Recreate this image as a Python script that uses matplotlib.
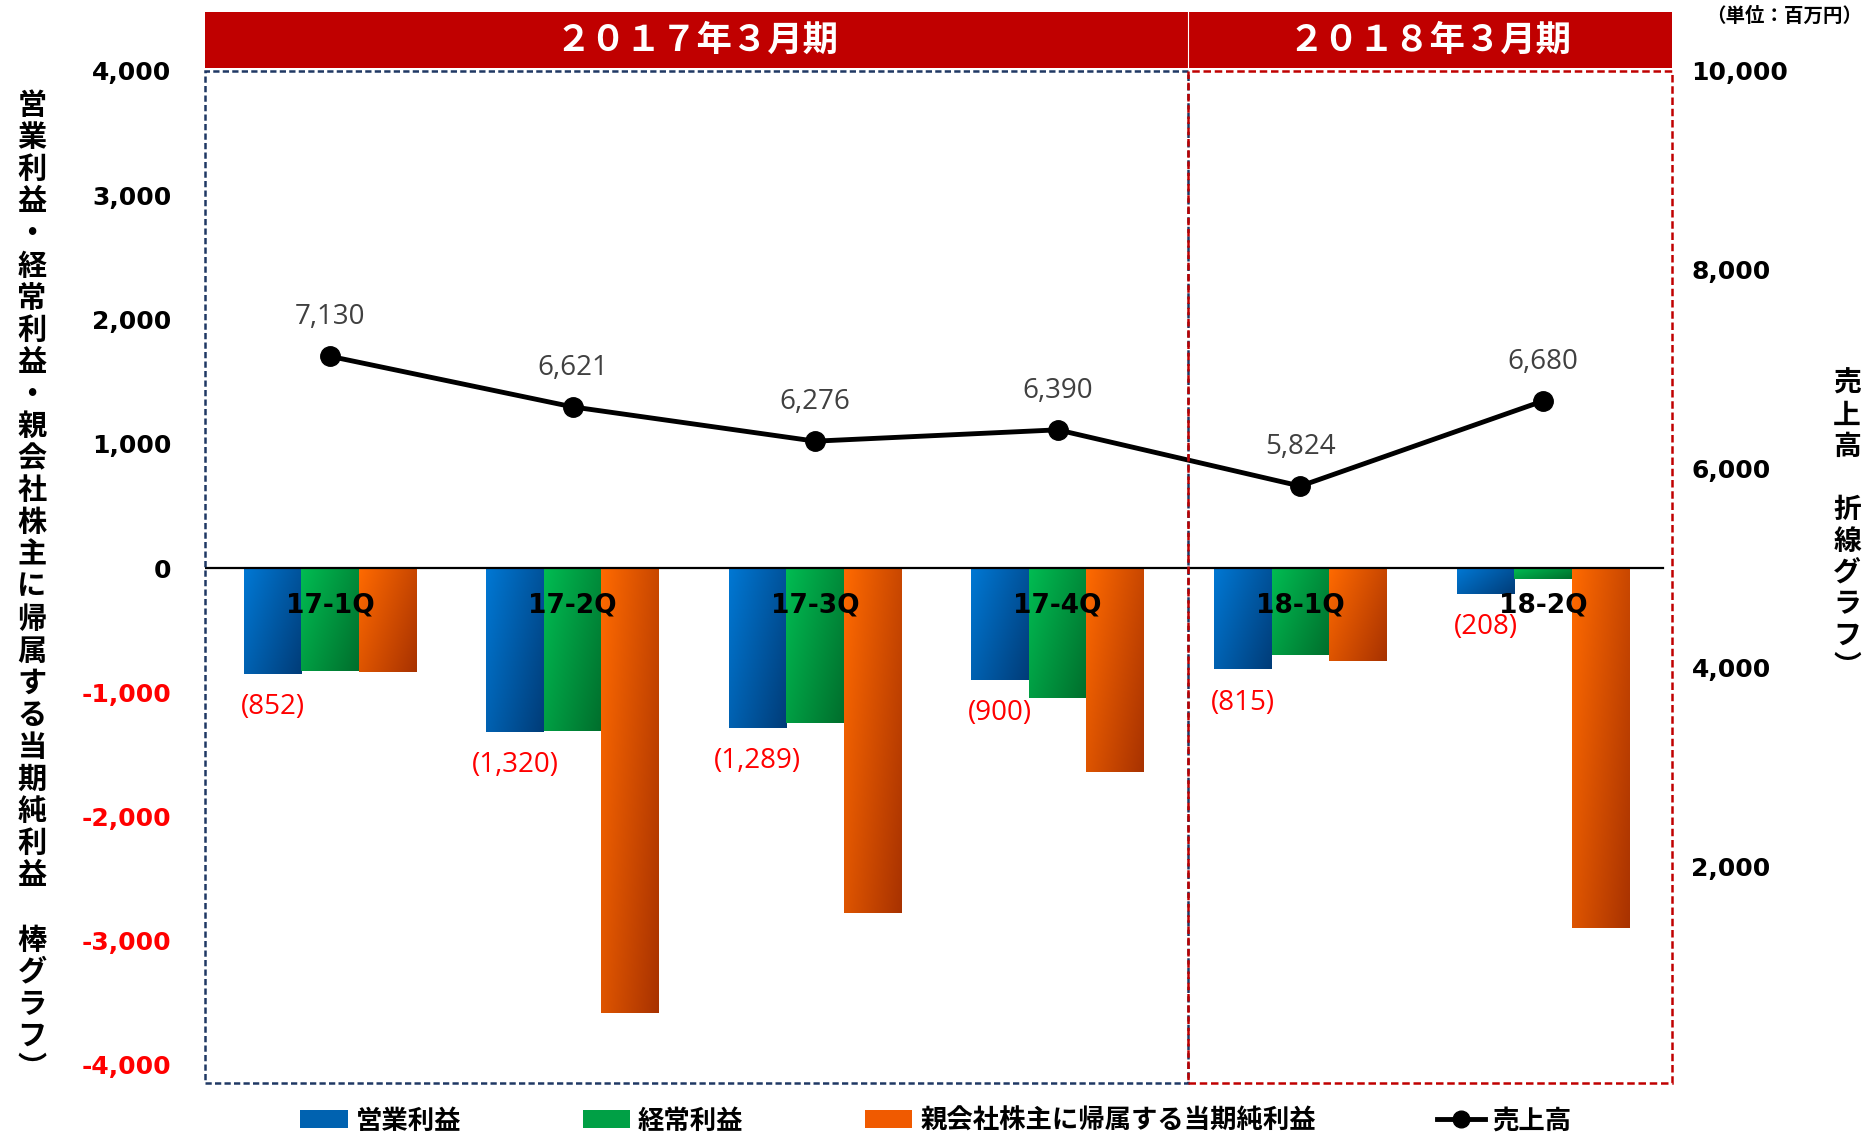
import numpy as np
import matplotlib
matplotlib.use("Agg")
import matplotlib.pyplot as plt
from matplotlib.patches import Rectangle, Patch
from matplotlib.lines import Line2D
from matplotlib.font_manager import FontProperties

plt.rcParams['font.family'] = ['Noto Sans CJK JP', 'DejaVu Sans']

# ---------------- data ----------------
quarters = ['17-1Q', '17-2Q', '17-3Q', '17-4Q', '18-1Q', '18-2Q']
operating_income = [-852, -1320, -1289, -900, -815, -208]
ordinary_income = [-825, -1315, -1245, -1045, -700, -88]
net_income = [-833, -3578, -2778, -1638, -748, -2897]
sales = [7130, 6621, 6276, 6390, 5824, 6680]
left_ticks = [-4000, -3000, -2000, -1000, 0, 1000, 2000, 3000, 4000]
right_ticks = [2000, 4000, 6000, 8000, 10000]
period_labels = ['２０１７年３月期', '２０１８年３月期']
legend_labels = ['営業利益', '経常利益', '親会社株主に帰属する当期純利益', '売上高']
left_title = ['営', '業', '利', '益', '・', '経', '常', '利', '益', '・',
              '親', '会', '社', '株', '主', 'に', '帰', '属', 'す', 'る',
              '当', '期', '純', '利', '益', '\u3000', '棒', 'グ', 'ラ', 'フ', '︶']
right_title = ['売', '上', '高', '\u3000', '折', '線', 'グ', 'ラ', 'フ', '︶']
unit_label = '（単位：百万円）'

# ---------------- layout helpers ----------------
W, H = 1866, 1136
fig = plt.figure(figsize=(W / 100, H / 100), dpi=100)


def fx(px):
    return px / W


def fy(py):
    return 1 - py / H


ax = fig.add_axes([fx(205), fy(1065), fx(1672) - fx(205), fy(71) - fy(1065)])
ax.set_xlim(-0.515, 5.532)
ax.set_ylim(-4000, 4000)

x = np.arange(len(quarters))
width = 0.237
series = [operating_income, ordinary_income, net_income]
solid = ['#0062B0', '#00A045', '#F05A00']
light = ['#0078D4', '#00BC52', '#FF6A00']
dark = ['#003C78', '#006E2C', '#A83200']


def hex2rgb(h):
    h = h.lstrip('#')
    return np.array([int(h[i:i + 2], 16) / 255 for i in (0, 2, 4)])


n = 64
uu, vv = np.meshgrid(np.linspace(0, 1, n), np.linspace(0, 1, n))
tgrad = 0.62 * uu + 0.38 * vv

for k, vals in enumerate(series):
    bars = ax.bar(x + (k - 1) * width, vals, width, color=solid[k], zorder=2, linewidth=0)
    c0, c1 = hex2rgb(light[k]), hex2rgb(dark[k])
    img = c0[None, None, :] * (1 - tgrad[..., None]) + c1[None, None, :] * tgrad[..., None]
    for b in bars:
        bb = b.get_bbox()
        im = ax.imshow(img, extent=[bb.x0, bb.x1, bb.y0, bb.y1], origin='lower',
                       aspect='auto', zorder=2.1, interpolation='bilinear')
        im.set_clip_path(b)

ax.set_xlim(-0.515, 5.532)
ax.set_ylim(-4000, 4000)
ax.axhline(0, xmin=0.0, xmax=0.994, color='black', lw=1.6, zorder=3)

for s in ax.spines.values():
    s.set_visible(False)
ax.set_xticks([])
ax.set_yticks(left_ticks)
ax.set_yticklabels([f"{v:,}" for v in left_ticks])
ax.tick_params(axis='y', length=0, pad=24)
for lab, v in zip(ax.get_yticklabels(), left_ticks):
    lab.set_fontfamily('DejaVu Sans')
    lab.set_fontweight('bold')
    lab.set_fontsize(18)
    lab.set_color('#FF0000' if v < 0 else 'black')

# category labels below zero line
for i, q in enumerate(quarters):
    ax.annotate(q, (x[i], 0), xytext=(0, -27), textcoords='offset points',
                ha='center', va='center', fontsize=19, fontweight='bold',
                family='DejaVu Sans', color='black', zorder=6)

# red labels for operating income
for i, v in enumerate(operating_income):
    ax.annotate(f"({abs(v):,})", (x[i] - width, v), xytext=(0, -24),
                textcoords='offset points', ha='center', va='center',
                fontsize=20, family='Open Sans', color='#FF0000', zorder=6)

# secondary axis: sales line
ax2 = ax.twinx()
ax2.set_ylim(0, 10000)
ax2.plot(x, sales, color='black', lw=3.5, marker='o', ms=14, zorder=5)
for s in ax2.spines.values():
    s.set_visible(False)
ax2.set_yticks(right_ticks)
ax2.set_yticklabels([f"{v:,}" for v in right_ticks])
ax2.tick_params(axis='y', length=0, pad=14)
for lab in ax2.get_yticklabels():
    lab.set_fontfamily('DejaVu Sans')
    lab.set_fontweight('bold')
    lab.set_fontsize(18)
for i, v in enumerate(sales):
    ax2.annotate(f"{v:,}", (x[i], v), xytext=(0, 28), textcoords='offset points',
                 ha='center', va='center', fontsize=20, family='Open Sans',
                 color='#404040')
ax2.set_xlim(-0.515, 5.532)

# dashed period frames
fig.add_artist(Rectangle((fx(205), fy(1083)), fx(1188) - fx(205), fy(71) - fy(1083),
                         transform=fig.transFigure, fill=False, edgecolor='#1F3864',
                         lw=1.8, ls=(0, (2.5, 1.3))))
fig.add_artist(Rectangle((fx(1188), fy(1083)), fx(1672) - fx(1188), fy(71) - fy(1083),
                         transform=fig.transFigure, fill=False, edgecolor='#C00000',
                         lw=1.8, ls=(0, (3, 1.5))))

# header band
fig.add_artist(Rectangle((fx(205), fy(68)), fx(1672) - fx(205), fy(12) - fy(68),
                         transform=fig.transFigure, facecolor='#C00000', edgecolor='none'))
fig.add_artist(Line2D([fx(1188), fx(1188)], [fy(68), fy(12)], transform=fig.transFigure,
                      color='white', lw=0.8))
fig.text(fx((205 + 1188) / 2), fy(40), period_labels[0], ha='center', va='center',
         color='white', fontsize=25.5, fontweight='bold')
fig.text(fx((1188 + 1672) / 2), fy(40), period_labels[1], ha='center', va='center',
         color='white', fontsize=25.5, fontweight='bold')

# unit label (top right corner)
fig.text(fx(1862), fy(16), unit_label, ha='right', va='center', fontsize=14,
         fontweight='bold', color='black')

# vertical axis titles
for i, ch in enumerate(left_title):
    fig.text(fx(32), fy(105 + 32.1 * i), ch, ha='center', va='center',
             fontsize=21, fontweight='bold', color='black')
for i, ch in enumerate(right_title):
    fig.text(fx(1847), fy(384 + 31.5 * i), ch, ha='center', va='center',
             fontsize=20, fontweight='bold', color='black')

# legend
handles = [Patch(facecolor=solid[0]), Patch(facecolor=solid[1]), Patch(facecolor=solid[2]),
           Line2D([0], [0], color='black', lw=3.5, marker='o', ms=12)]
fig.legend(handles, legend_labels, loc='center', bbox_to_anchor=(fx(936), fy(1121)),
           ncol=4, frameon=False,
           prop=FontProperties(family='Noto Sans CJK JP', weight='bold', size=19),
           handlelength=1.8, handleheight=0.65, handletextpad=0.3, columnspacing=4.6,
           borderaxespad=0, borderpad=0)

fig.savefig('out.png', dpi=100)
